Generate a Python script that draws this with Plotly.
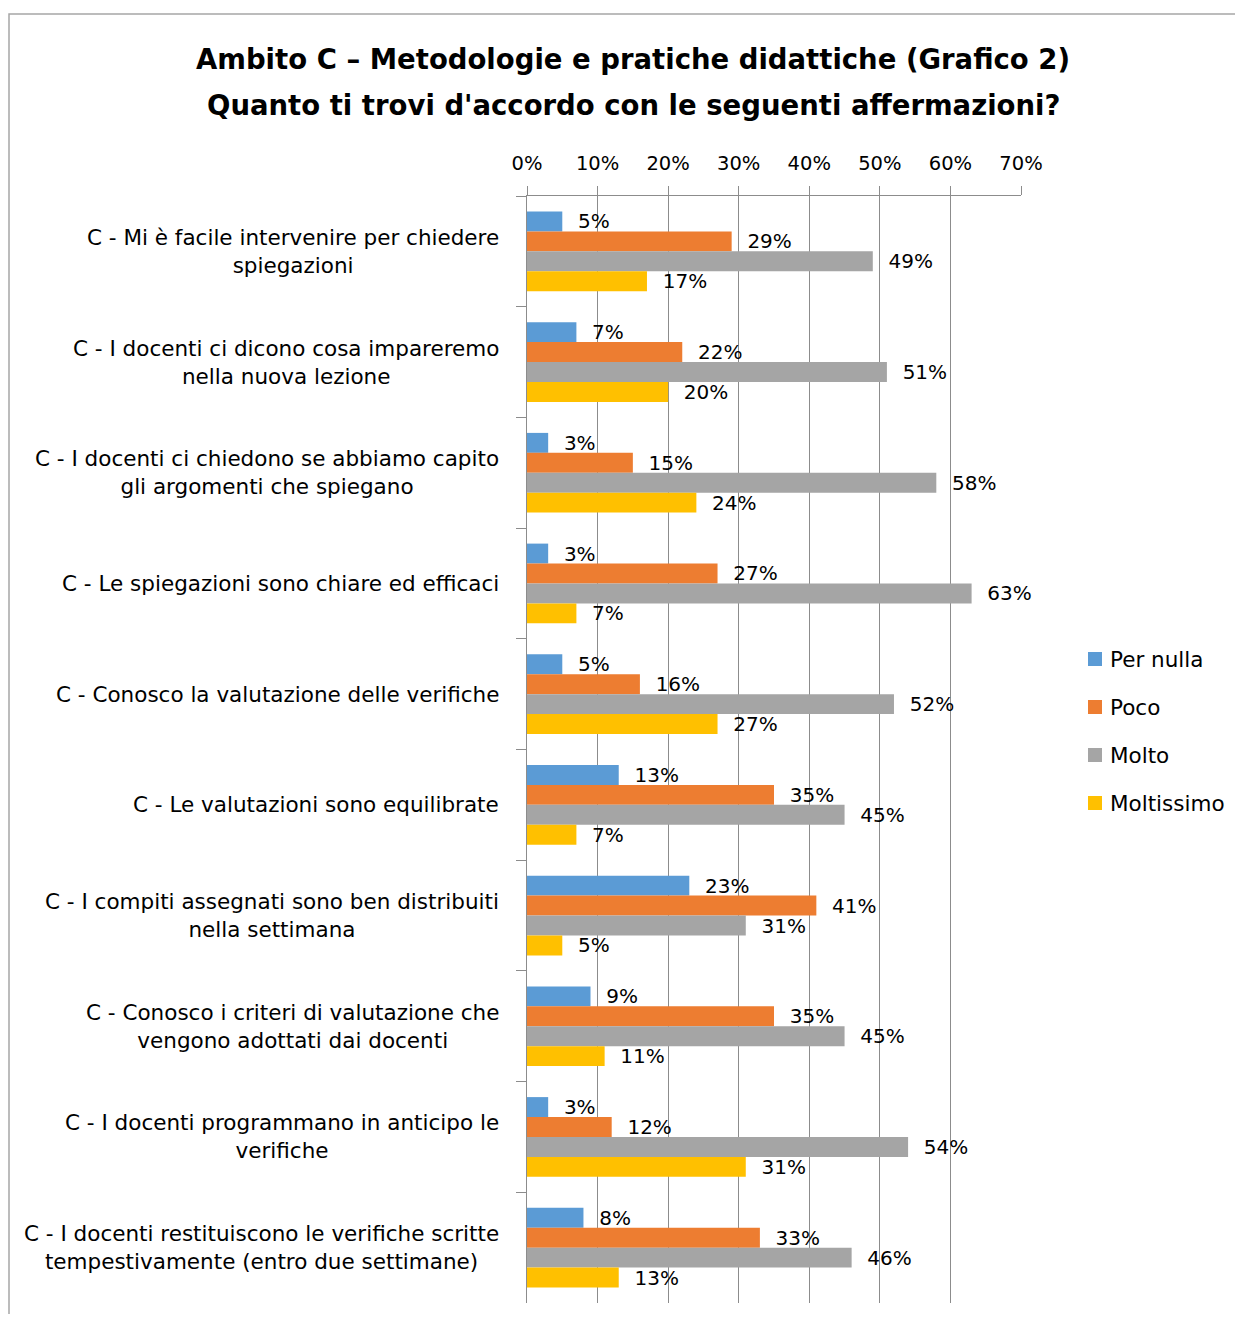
import plotly.graph_objects as go

categories = [
    "C - Mi è facile intervenire per chiedere<br>spiegazioni",
    "C - I docenti ci dicono cosa impareremo<br>nella nuova lezione",
    "C - I docenti ci chiedono se abbiamo capito<br>gli argomenti che spiegano",
    "C - Le spiegazioni sono chiare ed efficaci",
    "C - Conosco la valutazione delle verifiche",
    "C - Le valutazioni sono equilibrate",
    "C - I compiti assegnati sono ben distribuiti<br>nella settimana",
    "C - Conosco i criteri di valutazione che<br>vengono adottati dai docenti",
    "C - I docenti programmano in anticipo le<br>verifiche",
    "C - I docenti restituiscono le verifiche scritte<br>tempestivamente (entro due settimane)",
]
series_names = ["Per nulla", "Poco", "Molto", "Moltissimo"]
per_nulla = [0.05, 0.07, 0.03, 0.03, 0.05, 0.13, 0.23, 0.09, 0.03, 0.08]
poco = [0.29, 0.22, 0.15, 0.27, 0.16, 0.35, 0.41, 0.35, 0.12, 0.33]
molto = [0.49, 0.51, 0.58, 0.63, 0.52, 0.45, 0.31, 0.45, 0.54, 0.46]
moltissimo = [0.17, 0.20, 0.24, 0.07, 0.27, 0.07, 0.05, 0.11, 0.31, 0.13]
colors = ["#5B9BD5", "#ED7D31", "#A5A5A5", "#FFC000"]

title_lines = [
    "Ambito C – Metodologie e pratiche didattiche (Grafico 2)",
    "Quanto ti trovi d'accordo con le seguenti affermazioni?",
]

FONT = "DejaVu Sans"
GRID = "#8c8c8c"

# page offset of the body (8px) is compensated by a smaller figure
W, H = 1227, 1306
PL, PR, PT, PB = 527, 1021, 196, 1303  # plot area in page pixels
OFF = 8


def px(p):
    return (p - PL) / (PR - PL)


def py(p):
    return (PB - p) / (PB - PT)


fig = go.Figure()
for name, vals, col in zip(series_names, [per_nulla, poco, molto, moltissimo], colors):
    fig.add_trace(go.Bar(
        y=categories, x=vals, name=name, orientation="h",
        marker=dict(color=col, line=dict(width=0)),
        text=[f"\u00a0\u00a0{round(v*100)}%" for v in vals],
        textposition="outside", constraintext="none", cliponaxis=False,
        textfont=dict(size=20, color="#000000", family=FONT),
        showlegend=False,
    ))

# category labels (centered multi-line, right-aligned block)
for c in categories:
    fig.add_annotation(
        xref="paper", yref="y", x=px(501), y=c, text=c, showarrow=False,
        xanchor="right", yanchor="middle", align="center",
        font=dict(size=21.5, color="#000000", family=FONT),
    )

# title lines
for i, t in enumerate(title_lines):
    fig.add_annotation(
        xref="paper", yref="paper", x=px(633), y=py(59 + 46 * i),
        text=f"<b>{t}</b>", showarrow=False, xanchor="center", yanchor="middle",
        font=dict(size=27.5, color="#000000", family=FONT),
    )

# legend (square swatches + labels)
for i, (name, col) in enumerate(zip(series_names, colors)):
    cy = 659 + 48 * i
    fig.add_shape(type="rect", xref="paper", yref="paper",
                  x0=px(1088), x1=px(1102), y0=py(cy + 7), y1=py(cy - 7),
                  line=dict(width=0), fillcolor=col)
    fig.add_annotation(
        xref="paper", yref="paper", x=px(1108), y=py(cy), text=name,
        showarrow=False, xanchor="left", yanchor="middle",
        font=dict(size=21.5, color="#000000", family=FONT),
    )

# outer frame
fig.add_shape(type="rect", xref="paper", yref="paper",
              x0=px(9), x1=px(1300), y0=py(1360), y1=py(14),
              line=dict(color="#a6a6a6", width=1.5), fillcolor="rgba(0,0,0,0)")

fig.update_layout(
    width=W, height=H,
    margin=dict(l=PL - OFF, r=W - (PR - OFF), t=PT - OFF, b=H - (PB - OFF)),
    paper_bgcolor="white", plot_bgcolor="white",
    barmode="group", bargap=0.28, bargroupgap=0,
    font=dict(family=FONT, color="#000000"),
    showlegend=False,
    xaxis=dict(range=[0, 0.7], dtick=0.1, tickformat=".0%", side="top",
               showgrid=True, gridcolor=GRID, gridwidth=1,
               showline=True, linecolor=GRID, linewidth=1,
               ticks="outside", ticklen=9, tickcolor=GRID,
               ticklabelstandoff=8, zeroline=False,
               tickfont=dict(size=19.5, family=FONT, color="#000000")),
    yaxis=dict(type="category", autorange="reversed", showticklabels=False,
               tickson="boundaries", ticks="outside", ticklen=10, tickcolor=GRID,
               showline=True, linecolor=GRID, linewidth=1, showgrid=False),
)

fig.write_html("out.html")
